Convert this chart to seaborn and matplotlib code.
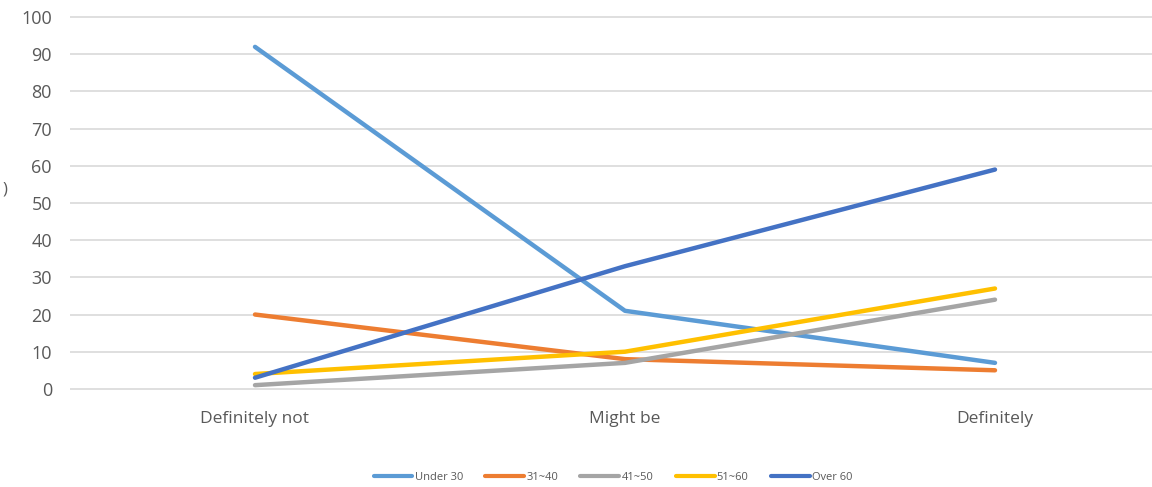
import matplotlib
matplotlib.use("Agg")
import matplotlib.pyplot as plt
import seaborn as sns
import pandas as pd

categories = ["Definitely not", "Might be", "Definitely"]
groups = ["Under 30", "31~40", "41~50", "51~60", "Over 60"]
under30 = [92, 21, 7]
age31_40 = [20, 8, 5]
age41_50 = [1, 7, 24]
age51_60 = [4, 10, 27]
over60 = [3, 33, 59]
colors = ["#5B9BD5", "#ED7D31", "#A5A5A5", "#FFC000", "#4472C4"]
yticks = [0, 10, 20, 30, 40, 50, 60, 70, 80, 90, 100]

series = [under30, age31_40, age41_50, age51_60, over60]
rows = []
for g, vals in zip(groups, series):
    for c, v in zip(categories, vals):
        rows.append({"Response": c, "Value": v, "Group": g})
df = pd.DataFrame(rows)

sns.set_theme(style="white")
plt.rcParams["font.family"] = ["Open Sans", "DejaVu Sans"]

fig = plt.figure(figsize=(11.52, 4.87), dpi=100)
ax = fig.add_axes([70/1152, 1 - 390/487, 1 - 70/1152, (390 - 16)/487])

sns.lineplot(data=df, x="Response", y="Value", hue="Group", hue_order=groups,
             palette=colors, linewidth=3.2, ax=ax, sort=False, legend=True)

ax.set_xlim(-0.5, (1152 - 255) / 370)
ax.set_ylim(-0.3, 100.3)
ax.set_yticks(yticks)
ax.grid(axis="y", color="#D9D9D9", linewidth=1.2)
ax.set_axisbelow(True)
for s in ax.spines.values():
    s.set_visible(False)
ax.set_xlabel("")
ax.set_ylabel("")
ax.tick_params(axis="y", labelsize=13, labelcolor="#595959", length=0, pad=13)
ax.tick_params(axis="x", labelsize=12.5, labelcolor="#595959", length=0, pad=15)

handles, labels = ax.get_legend_handles_labels()
ax.legend_.remove()
leg = fig.legend(handles, labels, loc="center", bbox_to_anchor=(613/1152, 1 - 477/487),
                 ncol=5, frameon=False, fontsize=8, handlelength=3.5,
                 columnspacing=2.0, handletextpad=0.2, labelcolor="#595959")
for h in leg.legend_handles:
    h.set_linewidth(3)

fig.text(0.002, 1 - 190/487, ")", fontsize=12, color="#595959", va="center", ha="left")

fig.savefig("out.png", dpi=100)
